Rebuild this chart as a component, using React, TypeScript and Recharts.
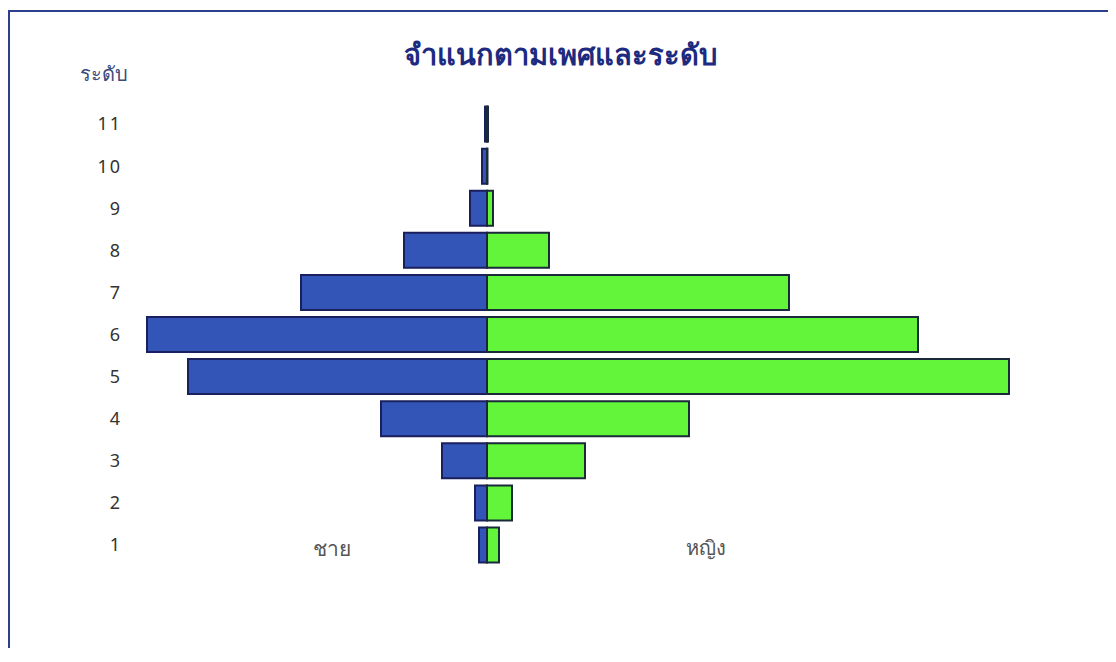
import React from 'react';
import { BarChart, Bar, XAxis, YAxis } from 'recharts';

const levels = ['11', '10', '9', '8', '7', '6', '5', '4', '3', '2', '1'];
const maleValues = [2, 5, 17, 83, 186, 340, 299, 106, 45, 12, 8];
const femaleValues = [1, 0.5, 6, 62, 302, 431, 522, 202, 98, 25, 12];

const data = levels.map((level, i) => ({
  level,
  male: -maleValues[i],
  female: femaleValues[i],
}));

const FONT = '"Noto Sans", "DejaVu Sans", sans-serif';

export default function App() {
  return (
    <div style={{ position: 'relative', width: 1100, height: 640, overflow: 'hidden', fontFamily: FONT }}>
      <div
        style={{
          position: 'absolute',
          left: 0,
          top: 2,
          width: 1200,
          height: 800,
          border: '2px solid #2b3f8c',
          boxSizing: 'border-box',
        }}
      />
      <div
        style={{
          position: 'absolute',
          left: 0,
          top: 24,
          width: 1100,
          textAlign: 'center',
          paddingLeft: 4,
          boxSizing: 'border-box',
          fontSize: 29,
          fontWeight: 'bold',
          color: '#1c2a80',
        }}
      >
        จำแนกตามเพศและระดับ
      </div>
      <div style={{ position: 'absolute', left: 72, top: 50, fontSize: 20, color: '#3a4a7a' }}>ระดับ</div>
      <div style={{ position: 'absolute', left: 305, top: 524, fontSize: 21, color: '#555' }}>ชาย</div>
      <div style={{ position: 'absolute', left: 678, top: 524, fontSize: 20, color: '#555' }}>หญิง</div>
      <div style={{ position: 'absolute', left: 0, top: 0 }}>
        <BarChart
          width={1100}
          height={640}
          data={data}
          layout="vertical"
          stackOffset="sign"
          barCategoryGap="8.5%"
          margin={{ top: 95, right: 48, bottom: 82, left: 72 }}
        >
          <XAxis type="number" domain={[-347, 573]} hide allowDataOverflow />
          <YAxis
            type="category"
            dataKey="level"
            width={60}
            axisLine={false}
            tickLine={false}
            tickSize={0}
            tickMargin={18}
            tick={{ fontSize: 18, fill: '#333', letterSpacing: 2, fontFamily: FONT }}
          />
          <Bar dataKey="male" stackId="a" fill="#3355b8" stroke="#1a1f5e" strokeWidth={2} isAnimationActive={false} />
          <Bar dataKey="female" stackId="a" fill="#62f53a" stroke="#1a2a3a" strokeWidth={2} isAnimationActive={false} />
        </BarChart>
      </div>
    </div>
  );
}
